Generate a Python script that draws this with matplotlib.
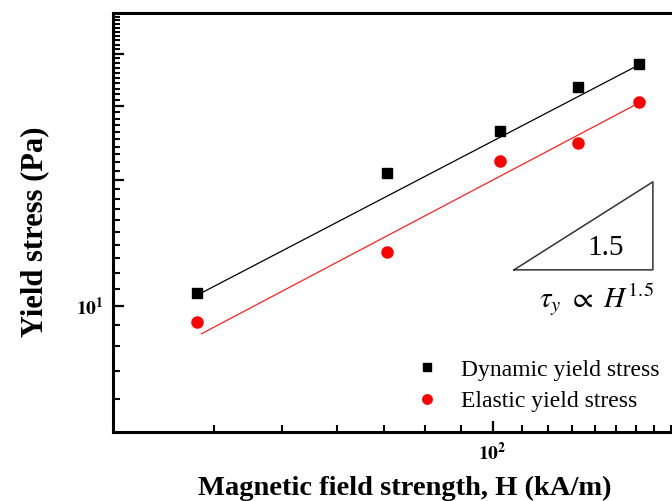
import numpy as np
import matplotlib
matplotlib.use('Agg')
from matplotlib import pyplot as plt
from matplotlib.ticker import FixedLocator, NullFormatter

plt.rcParams['font.family'] = ['Liberation Serif', 'DejaVu Serif']
plt.rcParams['mathtext.fontset'] = 'stix'

# data (H in kA/m, stress in Pa)
H = [37.8, 70.6, 102.4, 132.4, 161.8]
dynamic = [10.74, 20.8, 26.2, 33.3, 37.8]
elastic = [9.16, 13.45, 22.2, 24.5, 30.7]

# end points of the two power-law lines
fit_H = [38.4, 161.8]
fit_dynamic = [10.74, 37.6]
fit_elastic = [8.58, 30.5]

# slope triangle corners
tri_H = [107.3, 169.4, 169.4, 107.3]
tri_tau = [12.19, 12.19, 19.77, 12.19]

fig = plt.figure(figsize=(6.72, 5.01), dpi=100)
ax = fig.add_axes([113 / 672, 69 / 501, 567 / 672, 419 / 501])
ax.set_xscale('log')
ax.set_yscale('log')
ax.set_xlim(28.7, 185.2)
ax.set_ylim(5, 50)

ax.plot(fit_H, fit_dynamic, color='black', lw=0.9)
ax.plot(fit_H, fit_elastic, color='#ff2020', lw=0.9)
ax.plot(H, dynamic, 's', color='black', ms=7.5, label='Dynamic yield stress')
ax.plot(H, elastic, 'o', color='red', ms=8, label='Elastic yield stress')

ax.plot(tri_H, tri_tau, color='#333333', lw=1.1)
ax.text(145.2, 13.75, '1.5', fontsize=21, ha='center', va='center')
ax.text(140.9, 10.33, r'$\tau_y\ \propto\ H^{1.5}$', fontsize=21, ha='center', va='center')

leg = ax.legend(loc='upper left', bbox_to_anchor=(0.5326, 0.174), frameon=False,
                fontsize=17, markerscale=0.85, handlelength=1.0,
                handletextpad=0.95, labelspacing=0.41, borderpad=0,
                borderaxespad=0)

# ticks
ax.xaxis.set_major_locator(FixedLocator([100]))
ax.xaxis.set_minor_locator(FixedLocator([40, 50, 60, 70, 80, 90, 110, 120, 130, 140,
                                         150, 160, 170, 180]))
ax.set_xticklabels([r'$\mathbf{10^{2}}$'])
ax.xaxis.set_minor_formatter(NullFormatter())
ax.yaxis.set_major_locator(FixedLocator([10, 20, 30, 40]))
ax.yaxis.set_minor_locator(FixedLocator([6, 7, 8, 9] + list(range(11, 20)) +
                                        list(range(21, 30)) + list(range(31, 40)) +
                                        list(range(41, 50))))
ax.set_yticklabels([r'$\mathbf{10^{1}}$', '', '', ''])
ax.yaxis.set_minor_formatter(NullFormatter())
ax.tick_params(which='major', direction='in', length=8, width=1.6, labelsize=14, pad=7)
ax.tick_params(which='minor', direction='in', length=5, width=1.5)

for side in ['left', 'bottom', 'top']:
    ax.spines[side].set_linewidth(2.2)
ax.spines['right'].set_visible(False)

ax.set_xlabel('Magnetic field strength, H (kA/m)', fontsize=20.5, fontweight='bold')
ax.xaxis.set_label_coords(0.515, -0.105)
ax.set_ylabel('Yield stress (Pa)', fontsize=22, fontweight='bold', va='center')
ax.yaxis.set_label_coords(-0.1376, 0.477)

fig.savefig('out.png', dpi=100)
